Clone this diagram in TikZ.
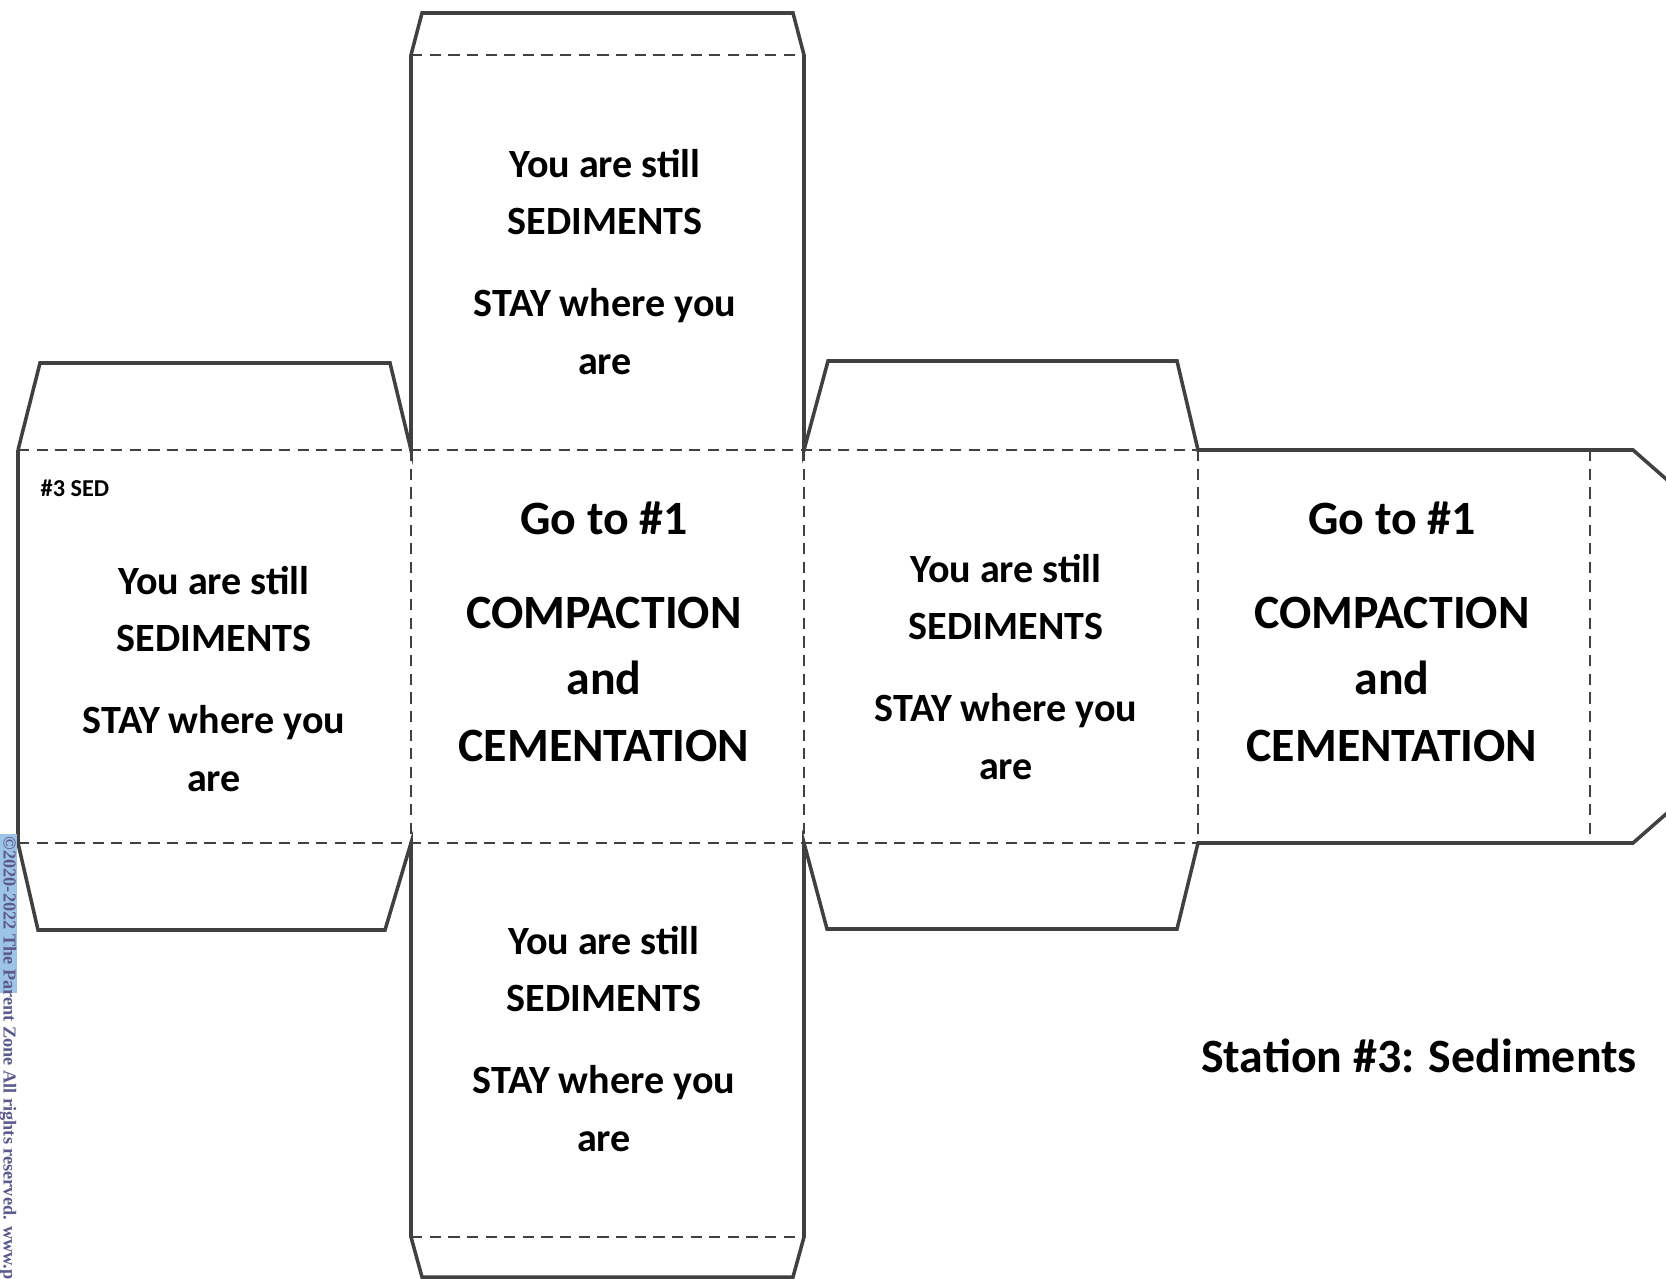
\documentclass[tikz,border=0pt]{standalone}
\usepackage{fontspec}
\setmainfont{Carlito}
\newfontfamily\notefont{Liberation Serif}
\usepackage{tikz}
\usetikzlibrary{positioning}
\definecolor{cutgray}{HTML}{404040}
\definecolor{wmblue}{HTML}{9DC3E6}
\definecolor{wmtext}{HTML}{5B5A8C}

\begin{document}
\begin{tikzpicture}[x=0.01cm,y=-0.01cm]
\tikzstyle{cut}=[draw=cutgray,line width=1pt,line join=miter]
\tikzstyle{fold}=[draw=cutgray,line width=0.8pt,dash pattern=on 3.2pt off 2.1pt]
\tikzstyle{still}=[align=center,inner sep=0pt,font=\bfseries\fontsize{11.4}{16.3}\selectfont]
\tikzstyle{goto}=[align=center,inner sep=0pt,font=\bfseries\fontsize{13.6}{19}\selectfont]
\useasboundingbox[fill=white] (0,0) rectangle (1666,1279);
% outline of the net
\draw[cut] (18,450) -- (18,843);
\draw[cut] (18,450) -- (40,363) -- (390,363) -- (411,450) -- (411,55) -- (422,13) -- (793,13)
  -- (804,55) -- (804,450) -- (828,361) -- (1177,361) -- (1198,450) -- (1633,450) -- (1690,500)
  -- (1690,793) -- (1633,843) -- (1198,843) -- (1177,929) -- (827,929) -- (804,843) -- (804,1237)
  -- (793,1277) -- (422,1277) -- (411,1237) -- (411,843) -- (385,930) -- (38,930) -- (18,843);
% folds
\draw[fold] (18,450) -- (1198,450);
\draw[fold] (18,843) -- (1198,843);
\draw[fold] (411,55) -- (804,55);
\draw[fold] (411,1237) -- (804,1237);
\foreach \x in {411,804,1198,1590}
  \draw[fold] (\x,450) -- (\x,843);
% faces
\node[still] at(605, 262) (top) {You are still\\SEDIMENTS\\[7pt]STAY where you\\are};
\node[still] at(214, 679) (left) {You are still\\SEDIMENTS\\[7pt]STAY where you\\are};
\node[goto] at(604, 632) (front) {Go to \#1\\[7.6pt]COMPACTION\\and\\CEMENTATION};
\node[still] at(1006, 667) (right) {You are still\\SEDIMENTS\\[7pt]STAY where you\\are};
\node[goto] at(1392, 632) (back) {Go to \#1\\[7.6pt]COMPACTION\\and\\CEMENTATION};
\node[still] at(604, 1039) (bottom) {You are still\\SEDIMENTS\\[7pt]STAY where you\\are};
\node[anchor=west,inner sep=0pt,font=\bfseries\fontsize{6.9}{8}\selectfont] at(40, 488) (tag) {\#3 SED};
\node[inner sep=0pt,font=\bfseries\fontsize{13.6}{16}\selectfont] at(1419, 1056) (station) {Station \#3: Sediments};
% watermark
\fill[wmblue] (0,834) rectangle (17,993);
\node[rotate=-90,anchor=west,inner sep=0pt,text=wmtext,font=\notefont\bfseries\fontsize{5.2}{6}\selectfont]
  at(8, 836) (mark) {©2020-2022 The Parent Zone All rights reserved. www.parent};
\end{tikzpicture}
\end{document}
